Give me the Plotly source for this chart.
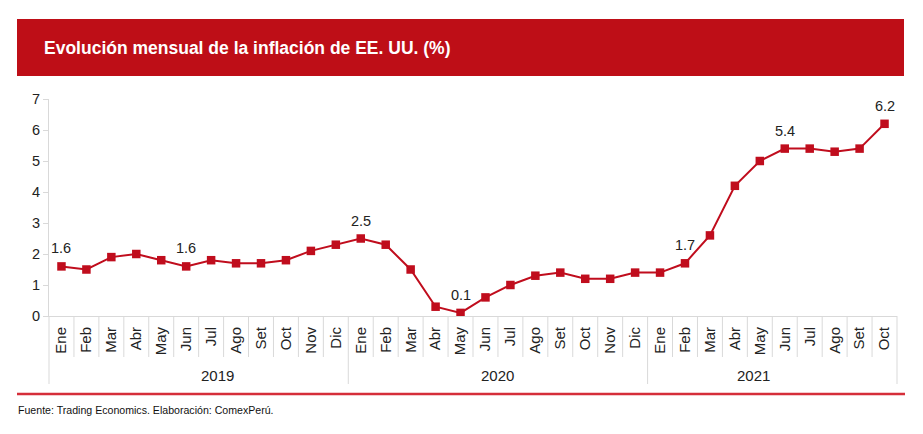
import plotly.graph_objects as go

# ---- data ----
months = ["Ene", "Feb", "Mar", "Abr", "May", "Jun", "Jul", "Ago", "Set", "Oct", "Nov", "Dic",
          "Ene", "Feb", "Mar", "Abr", "May", "Jun", "Jul", "Ago", "Set", "Oct", "Nov", "Dic",
          "Ene", "Feb", "Mar", "Abr", "May", "Jun", "Jul", "Ago", "Set", "Oct"]
years = ["2019", "2020", "2021"]
months_per_year = [12, 12, 10]
inflation = [1.6, 1.5, 1.9, 2.0, 1.8, 1.6, 1.8, 1.7, 1.7, 1.8, 2.1, 2.3,
             2.5, 2.3, 1.5, 0.3, 0.1, 0.6, 1.0, 1.3, 1.4, 1.2, 1.2, 1.4,
             1.4, 1.7, 2.6, 4.2, 5.0, 5.4, 5.4, 5.3, 5.4, 6.2]
labeled_idx = [0, 5, 12, 16, 25, 29, 33]
y_ticks = [0, 1, 2, 3, 4, 5, 6, 7]

title = "Evolución mensual de la inflación de EE. UU. (%)"
source = "Fuente: Trading Economics. Elaboración: ComexPerú."

# ---- layout geometry ----
W, H = 923, 434
L, R, T, B = 49, 26, 99, 118
pw, ph = W - L - R, H - T - B


def px(x):
    return (x - L) / pw


def py(y):
    return (H - B - y) / ph


FONT = "Liberation Sans, Arial, sans-serif"
RED = "#C00D1D"
GRID = "#D9D9D9"

N = len(months)
xs = list(range(N))

fig = go.Figure()
fig.add_trace(go.Scatter(
    x=xs, y=inflation, mode="lines+markers",
    line=dict(color=RED, width=2),
    marker=dict(symbol="square", size=8.5, color=RED),
    hoverinfo="skip", showlegend=False,
))

annotations = []
for i in labeled_idx:
    annotations.append(dict(
        x=xs[i], y=inflation[i], xref="x", yref="y", text=f"{inflation[i]:.1f}",
        showarrow=False, yanchor="bottom", yshift=8,
        font=dict(family=FONT, size=14.5, color="#222222"),
    ))

shapes = []
# title bar
shapes.append(dict(type="rect", xref="paper", yref="paper",
                   x0=px(17), x1=px(904), y0=py(76), y1=py(19),
                   fillcolor="#BE0E17", line=dict(width=0), layer="below"))
annotations.append(dict(x=px(42), y=py(48), xref="paper", yref="paper",
                        xanchor="left", yanchor="middle", showarrow=False,
                        text="<b>" + title + "</b>",
                        font=dict(family=FONT, size=17.5, color="white")))

# category separators
year_bounds = [0]
for c in months_per_year:
    year_bounds.append(year_bounds[-1] + c)
for i in range(N + 1):
    xb = i / N
    ybot = py(384) if i in year_bounds else py(357)
    shapes.append(dict(type="line", xref="paper", yref="paper",
                       x0=xb, x1=xb, y0=0, y1=ybot,
                       line=dict(color=GRID, width=1)))

# year labels
for k, yr in enumerate(years):
    c = (year_bounds[k] + year_bounds[k + 1]) / 2 / N
    annotations.append(dict(x=c, y=py(375), xref="paper", yref="paper",
                            text=yr, showarrow=False, yanchor="middle",
                            font=dict(family=FONT, size=15, color="#222222")))

# bottom red rule
shapes.append(dict(type="line", xref="paper", yref="paper",
                   x0=px(17), x1=px(905), y0=py(394), y1=py(394),
                   line=dict(color="#D52E3A", width=2.5)))

annotations.append(dict(x=px(16), y=py(410), xref="paper", yref="paper",
                        xanchor="left", yanchor="middle", showarrow=False,
                        text=source,
                        font=dict(family=FONT, size=10.6, color="#111111")))

fig.update_layout(
    width=W, height=H,
    margin=dict(l=L, r=R, t=T, b=B),
    paper_bgcolor="white", plot_bgcolor="white",
    shapes=shapes, annotations=annotations,
    xaxis=dict(range=[-0.5, N - 0.5], tickmode="array", tickvals=xs, ticktext=months,
               tickangle=-90, showgrid=False, zeroline=False,
               showline=True, linecolor=GRID, linewidth=1, ticks="",
               ticklabelstandoff=4,
               tickfont=dict(family=FONT, size=15, color="#222222"),
               fixedrange=True),
    yaxis=dict(range=[0, 7], tickmode="array", tickvals=y_ticks,
               showgrid=False, zeroline=False, showline=True, linecolor=GRID, linewidth=1,
               ticks="outside", ticklen=5, tickcolor=GRID,
               tickfont=dict(family=FONT, size=14.5, color="#222222"),
               fixedrange=True),
)

fig.write_html("out.html", config={"displayModeBar": False},
               post_script="document.body.style.margin='0px';")
